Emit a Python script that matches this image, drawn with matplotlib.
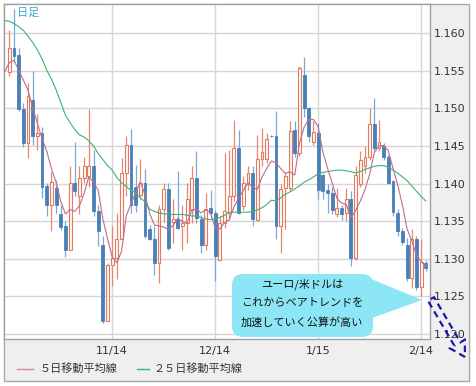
import numpy as np
import pandas as pd
import matplotlib
matplotlib.use('Agg')
import matplotlib.pyplot as plt
from matplotlib.patches import Rectangle, FancyBboxPatch, Polygon, FancyArrow
from matplotlib.lines import Line2D
from matplotlib.transforms import IdentityTransform

W, H = 476, 386
JP = ['Noto Sans CJK JP', 'DejaVu Sans']

# daily EUR/USD candles (oldest -> newest)
opens = [1.1549, 1.1581, 1.1571, 1.1499, 1.1454, 1.1511, 1.1464, 1.1467, 1.1397, 1.1371,
         1.1394, 1.1360, 1.1343, 1.1312, 1.1401, 1.1383, 1.1408, 1.1410, 1.1424, 1.1363,
         1.1319, 1.1217, 1.1292, 1.1301, 1.1327, 1.1414, 1.1452, 1.1395, 1.1385, 1.1401,
         1.1339, 1.1327, 1.1295, 1.1366, 1.1393, 1.1349, 1.1353, 1.1343, 1.1347, 1.1365,
         1.1407, 1.1353, 1.1319, 1.1368, 1.1361, 1.1299, 1.1348, 1.1361, 1.1383, 1.1447,
         1.1370, 1.1399, 1.1414, 1.1352, 1.1433, 1.1433, 1.1464, 1.1463, 1.1343, 1.1394,
         1.1394, 1.1472, 1.1441, 1.1545, 1.1500, 1.1456, 1.1467, 1.1412, 1.1392, 1.1388,
         1.1359, 1.1368, 1.1361, 1.1379, 1.1301, 1.1399, 1.1423, 1.1436, 1.1480, 1.1447,
         1.1450, 1.1436, 1.1403, 1.1361, 1.1337, 1.1318, 1.1275, 1.1326, 1.1262, 1.1294]
highs = [1.1604, 1.1632, 1.1580, 1.1507, 1.1534, 1.1550, 1.1492, 1.1476, 1.1401, 1.1416,
         1.1405, 1.1372, 1.1350, 1.1424, 1.1455, 1.1423, 1.1436, 1.1499, 1.1445, 1.1372,
         1.1330, 1.1295, 1.1343, 1.1361, 1.1434, 1.1464, 1.1473, 1.1425, 1.1433, 1.1420,
         1.1345, 1.1343, 1.1372, 1.1401, 1.1401, 1.1380, 1.1417, 1.1371, 1.1401, 1.1423,
         1.1443, 1.1358, 1.1388, 1.1392, 1.1365, 1.1357, 1.1441, 1.1445, 1.1485, 1.1472,
         1.1410, 1.1423, 1.1423, 1.1465, 1.1474, 1.1467, 1.1465, 1.1496, 1.1399, 1.1416,
         1.1484, 1.1484, 1.1556, 1.1569, 1.1502, 1.1483, 1.1481, 1.1414, 1.1399, 1.1395,
         1.1394, 1.1372, 1.1394, 1.1390, 1.1423, 1.1443, 1.1450, 1.1500, 1.1514, 1.1485,
         1.1454, 1.1438, 1.1405, 1.1366, 1.1341, 1.1328, 1.1339, 1.1330, 1.1326, 1.1298]
lows = [1.1543, 1.1562, 1.1496, 1.1449, 1.1434, 1.1452, 1.1445, 1.1381, 1.1357, 1.1337,
        1.1361, 1.1338, 1.1303, 1.1312, 1.1383, 1.1359, 1.1401, 1.1396, 1.1357, 1.1317,
        1.1215, 1.1217, 1.1264, 1.1273, 1.1326, 1.1383, 1.1361, 1.1362, 1.1379, 1.1328,
        1.1325, 1.1278, 1.1268, 1.1349, 1.1312, 1.1321, 1.1340, 1.1312, 1.1321, 1.1348,
        1.1348, 1.1308, 1.1312, 1.1354, 1.1270, 1.1299, 1.1341, 1.1352, 1.1377, 1.1359,
        1.1365, 1.1392, 1.1343, 1.1350, 1.1423, 1.1427, 1.1462, 1.1326, 1.1308, 1.1340,
        1.1390, 1.1436, 1.1437, 1.1489, 1.1456, 1.1452, 1.1379, 1.1379, 1.1361, 1.1359,
        1.1355, 1.1352, 1.1350, 1.1290, 1.1299, 1.1396, 1.1414, 1.1432, 1.1443, 1.1443,
        1.1432, 1.1399, 1.1357, 1.1330, 1.1319, 1.1270, 1.1261, 1.1259, 1.1251, 1.1284]
closes = [1.1581, 1.1570, 1.1499, 1.1454, 1.1517, 1.1464, 1.1468, 1.1396, 1.1371, 1.1402,
          1.1371, 1.1342, 1.1312, 1.1401, 1.1390, 1.1408, 1.1424, 1.1424, 1.1363, 1.1337,
          1.1217, 1.1292, 1.1301, 1.1327, 1.1414, 1.1452, 1.1372, 1.1372, 1.1401, 1.1330,
          1.1327, 1.1295, 1.1366, 1.1393, 1.1315, 1.1353, 1.1341, 1.1347, 1.1379, 1.1407,
          1.1354, 1.1319, 1.1366, 1.1361, 1.1304, 1.1348, 1.1363, 1.1383, 1.1447, 1.1361,
          1.1401, 1.1414, 1.1353, 1.1433, 1.1442, 1.1459, 1.1463, 1.1343, 1.1393, 1.1410,
          1.1470, 1.1441, 1.1554, 1.1500, 1.1463, 1.1469, 1.1392, 1.1390, 1.1388, 1.1365,
          1.1368, 1.1360, 1.1379, 1.1301, 1.1412, 1.1432, 1.1436, 1.1480, 1.1447, 1.1455,
          1.1436, 1.1401, 1.1362, 1.1337, 1.1323, 1.1275, 1.1326, 1.1262, 1.1296, 1.1288]

# 5-day MA: first points (need earlier days), rest from closes
ma5_head = [1.1549, 1.1561, 1.1564, 1.1551, 1.1538]
# 25-day MA, one value per candle starting one day before the first
ma25 = [1.1617, 1.1616, 1.1613, 1.1609, 1.1604, 1.1596, 1.1588, 1.1578, 1.1566, 1.1551,
        1.1539, 1.1525, 1.1508, 1.1491, 1.1481, 1.1472, 1.1465, 1.1462, 1.1457, 1.1450,
        1.1440, 1.1432, 1.1424, 1.1418, 1.1408, 1.1401, 1.1396, 1.1391, 1.1388, 1.1381,
        1.1376, 1.1366, 1.1363, 1.1361, 1.1360, 1.1359, 1.1359, 1.1359, 1.1359, 1.1358,
        1.1357, 1.1357, 1.1355, 1.1353, 1.1352, 1.1353, 1.1355, 1.1358, 1.1362, 1.1362,
        1.1362, 1.1362, 1.1362, 1.1363, 1.1365, 1.1368, 1.1372, 1.1378, 1.1377, 1.1381,
        1.1386, 1.1389, 1.1393, 1.1397, 1.1402, 1.1405, 1.1409, 1.1413, 1.1415, 1.1416,
        1.1417, 1.1418, 1.1418, 1.1417, 1.1416, 1.1414, 1.1416, 1.1419, 1.1421, 1.1423,
        1.1424, 1.1424, 1.1422, 1.1418, 1.1414, 1.1409, 1.1404, 1.1397, 1.1390, 1.1383,
        1.1377]

date_pos = [22, 44, 66, 88]
date_labels = ['11/14', '12/14', '1/15', '2/14']
price_ticks = [1.120, 1.125, 1.130, 1.135, 1.140, 1.145, 1.150, 1.155, 1.160]

fig = plt.figure(figsize=(W / 100, H / 100), dpi=100)
fig.patch.set_facecolor('white')
px = IdentityTransform()

# grey widget frame
fig.add_artist(Rectangle((3.5, H - 380.5), 465, 377, transform=px,
                         fc='#efefef', ec='#a8a8a8', lw=1, zorder=0))

ax = fig.add_axes([4 / W, 1 - 339 / H, 426 / W, 335 / H])
ax.set_facecolor('white')
ax.set_zorder(1)

o = np.array(opens)
c = np.array(closes)
hi = np.array(highs)
lo = np.array(lows)
x = np.arange(len(c))
up = c >= o
bot = np.minimum(o, c)
hgt = np.maximum(np.abs(c - o), 0.00005)

ax.vlines(x[up], lo[up], hi[up], color='#e8876e', lw=0.9, zorder=2)
ax.vlines(x[~up], lo[~up], hi[~up], color='#7aa8d6', lw=0.9, zorder=2)
ax.bar(x[up], hgt[up], bottom=bot[up], width=0.62, color='#fff8f6',
       edgecolor='#e07a60', lw=0.8, zorder=3)
ax.bar(x[~up], hgt[~up], bottom=bot[~up], width=0.62, color='#4a80b8',
       edgecolor='#4a80b8', lw=0.6, zorder=3)

ma5 = list(ma5_head) + list(pd.Series(c).rolling(5).mean().dropna())
ma_x = np.arange(-1, len(c))
ax.plot(ma_x, ma25, color='#3cb46e', lw=0.8, zorder=4)
ax.plot(ma_x, ma5, color='#c46a8c', lw=0.8, zorder=4)

ax.set_xlim(-1.13, 89.9)
ax.set_ylim(1.11933, 1.1639)
ax.set_yticks(price_ticks)
ax.set_yticklabels(['%.3f' % v for v in price_ticks])
ax.set_xticks(date_pos)
ax.set_xticklabels(date_labels)
ax.yaxis.tick_right()
ax.tick_params(axis='y', length=0, pad=2.5, labelsize=8, labelcolor='#333333')
ax.tick_params(axis='x', length=0, pad=5, labelsize=8, labelcolor='#333333')
ax.grid(True, color='#d6d6d6', lw=1)
ax.set_axisbelow(True)
for s in ax.spines.values():
    s.set_color('#a0a0a0')
    s.set_linewidth(1)

ax.text(0.03, 0.974, '日足', transform=ax.transAxes, family=JP, fontsize=8,
        color='#3aa8d8', va='center', ha='left', zorder=5)

# legend under the dates
fig.add_artist(Line2D([17, 33], [H - 369, H - 369], transform=px, color='#d08898', lw=1))
fig.text(40 / W, 1 - 369 / H, '５日移動平均線', family=JP, fontsize=8,
         color='#333333', va='center', ha='left')
fig.add_artist(Line2D([137, 149], [H - 369, H - 369], transform=px, color='#3cb46e', lw=1))
fig.text(153 / W, 1 - 369 / H, '２５日移動平均線', family=JP, fontsize=8,
         color='#333333', va='center', ha='left')

# callout
fig.add_artist(FancyBboxPatch((232, H - 337), 141, 63, boxstyle='round,pad=0,rounding_size=11',
                              transform=px, fc='#8ce6f5', ec='none', zorder=5))
fig.add_artist(Polygon([(364, H - 276), (422, H - 300), (372, H - 318)], closed=True,
                       transform=px, fc='#8ce6f5', ec='none', zorder=5))
for yy, line in zip([284, 303, 322], ['ユーロ/米ドルは', 'これからベアトレンドを', '加速していく公算が高い']):
    fig.text(302 / W, 1 - yy / H, line, family=JP, fontsize=8, color='#111111',
             ha='center', va='center', zorder=6)

# dashed hollow arrow pointing down-right
fig.add_artist(FancyArrow(431, H - 299, 34, -58, width=7, head_width=17, head_length=15,
                          length_includes_head=True, fill=False, ec='#1a1aa8', lw=1.6,
                          ls=(0, (3, 2)), transform=px, zorder=7))

fig.savefig('out.png', dpi=100)
